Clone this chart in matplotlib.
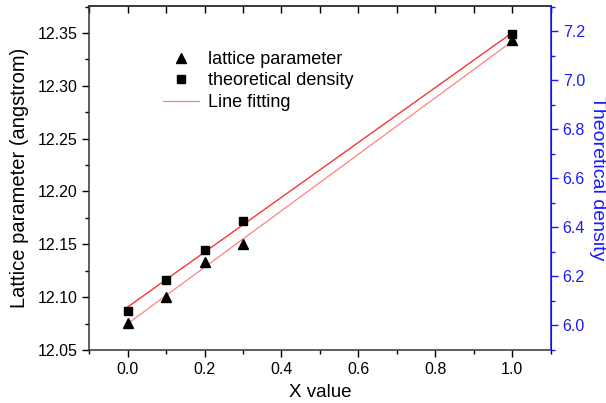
import numpy as np
import matplotlib.pyplot as plt
from matplotlib.ticker import MultipleLocator
from matplotlib.lines import Line2D

plt.rcParams['font.family'] = ['Liberation Sans', 'DejaVu Sans']

# data
x_vals = [0.0, 0.1, 0.2, 0.3, 1.0]
lattice = [12.076, 12.100, 12.133, 12.150, 12.343]
density = [6.058, 6.184, 6.305, 6.424, 7.188]

fig = plt.figure(figsize=(6.06, 4.03), dpi=100)
ax = fig.add_axes([0.147, 0.1315, 0.762, 0.8535])
ax2 = ax.twinx()

# linear fits
xf = np.array([0.0, 1.0])
p1 = np.polyfit(x_vals, lattice, 1)
p2 = np.polyfit(x_vals, density, 1)
ax.plot(xf, np.polyval(p1, xf), color='#ff8080', lw=0.9, zorder=2)
ax2.plot(xf, np.polyval(p2, xf), color='#ff2020', lw=0.9, zorder=2)

ax.plot(x_vals, lattice, '^', color='black', ms=7, zorder=3)
ax2.plot(x_vals, density, 's', color='black', ms=5.5, zorder=3)

ax.set_xlim(-0.1, 1.1)
ax.set_ylim(12.05, 12.3755)
ax2.set_ylim(5.898, 7.302)

ax.xaxis.set_major_locator(MultipleLocator(0.2))
ax.xaxis.set_minor_locator(MultipleLocator(0.1))
ax.yaxis.set_major_locator(MultipleLocator(0.05))
ax.yaxis.set_minor_locator(MultipleLocator(0.025))
ax2.yaxis.set_major_locator(MultipleLocator(0.2))
ax2.yaxis.set_minor_locator(MultipleLocator(0.1))

ax.tick_params(axis='x', which='both', direction='out', top=False, labelsize=11.5)
ax.tick_params(axis='x', which='major', length=5, width=1)
ax.tick_params(axis='x', which='minor', length=3, width=1)
ax.tick_params(axis='y', which='major', length=5, width=1, labelsize=11.5)
ax.tick_params(axis='y', which='minor', length=3, width=1)
ax2.tick_params(axis='y', which='major', length=5, width=1, colors='#1a1aff', labelsize=11.5)
ax2.tick_params(axis='y', which='minor', length=3, width=1, colors='#1a1aff')

# top ticks point inward
sec = ax.secondary_xaxis('top')
sec.xaxis.set_major_locator(MultipleLocator(0.2))
sec.xaxis.set_minor_locator(MultipleLocator(0.1))
sec.tick_params(which='both', direction='in', labeltop=False, length=5, width=1)

for s in ['left', 'bottom', 'top']:
    ax.spines[s].set_linewidth(1.1)
    ax.spines[s].set_color('#333333')
sec.spines['top'].set_linewidth(1.1)
sec.spines['top'].set_color('#333333')
ax2.spines['right'].set_color('#1a1aff')
ax2.spines['right'].set_linewidth(1.1)
ax2.spines['left'].set_visible(False)
ax2.spines['top'].set_visible(False)
ax2.spines['bottom'].set_visible(False)

ax.set_xlabel('X value', fontsize=13.5, labelpad=5)
ax.set_ylabel('Lattice parameter (angstrom)', fontsize=14.5, labelpad=6)
ax2.set_ylabel('Theoretical density', fontsize=14, color='#1a1aff', rotation=270, labelpad=15)

handles = [
    Line2D([], [], marker='^', color='black', ls='none', ms=7),
    Line2D([], [], marker='s', color='black', ls='none', ms=5.5),
    Line2D([], [], color='#ff8080', lw=0.9),
]
ax2.legend(handles, ['lattice parameter', 'theoretical density', 'Line fitting'],
           loc='upper left', bbox_to_anchor=(0.125, 0.917), frameon=False,
           fontsize=13, handlelength=2.0, handletextpad=0.5, labelspacing=0.25)

fig.savefig('out.png', dpi=100)
